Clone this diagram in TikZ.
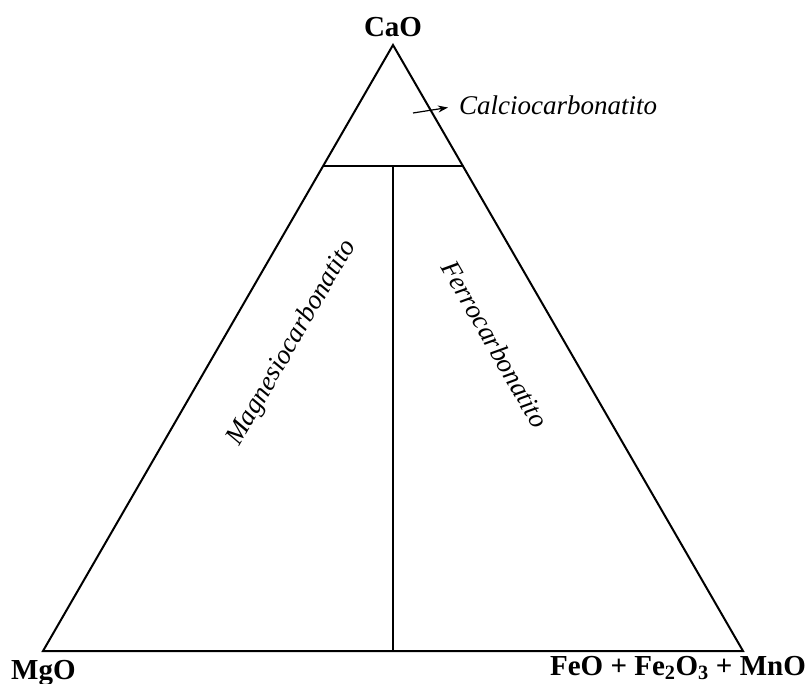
\documentclass[tikz,border=0pt]{standalone}
\usepackage{fontspec}
\setmainfont{Liberation Serif}
\usetikzlibrary{arrows.meta}
\begin{document}
\begin{tikzpicture}[x=1pt,y=-1pt,
  edge/.style={line width=2pt, line join=miter},
  corner/.style={font=\fontsize{29}{30}\selectfont\bfseries, inner sep=0pt},
  field/.style={font=\fontsize{27}{28}\selectfont\itshape, inner sep=0pt}]
\useasboundingbox (0,0) rectangle (808,684);
\coordinate (A) at (393,45);
\coordinate (B) at (43,651);
\coordinate (C) at (743,651);
\coordinate (L) at (323,166);
\coordinate (R) at (463,166);
\coordinate (M) at (393,166);
\coordinate (Mb) at (393,651);
\draw[edge] (A) -- (B) -- (C) -- cycle;
\draw[edge] (L) -- (R);
\draw[edge] (M) -- (Mb);
\node[corner, anchor=base] (cao) at (393,37) {CaO};
\node[corner, anchor=base west] (mgo) at (11,679) {MgO};
\node[corner, anchor=base east] (feo) at (806,675) {FeO + Fe\textsubscript{2}O\textsubscript{3} + MnO};
\node[field, anchor=base west] (calc) at (459,115) {Calciocarbonatito};
\coordinate (arrs) at (413,113);
\draw[line width=1.2pt, -{Stealth[length=10pt,width=7pt]}] (arrs) -- (448,107.5);
\node[field, rotate=60] (mag) at (292,343) {Magnesiocarbonatito};
\node[field, rotate=-60] (fer) at (495,344) {Ferrocarbonatito};
\end{tikzpicture}
\end{document}
